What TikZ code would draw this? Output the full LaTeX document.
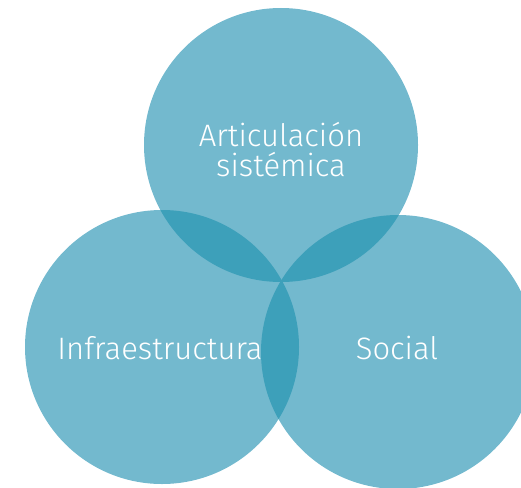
\documentclass[tikz,border=0pt]{standalone}
\usepackage{fontspec}
\setmainfont{Fira Sans Light}
\usetikzlibrary{positioning}
\definecolor{vennlight}{RGB}{115,185,206}
\definecolor{venndark}{RGB}{61,160,186}

\begin{document}
\begin{tikzpicture}[x=1pt, y=-1pt,
  ring/.style={circle, fill=vennlight, minimum size=274pt, inner sep=0pt, outer sep=0pt},
  lab/.style={text=white, font=\fontsize{31}{30}\selectfont, align=center, inner sep=0pt},
]
\clip (0,0) rectangle (521,487);
\node[ring] (top)   at (281,145) {};
\node[ring] (left)  at (162,347) {};
\node[ring] (right) at (398,352) {};
% darker overlaps
\begin{scope}
  \clip (top.center) circle (137pt);
  \fill[venndark] (left.center) circle (137pt);
  \fill[venndark] (right.center) circle (137pt);
\end{scope}
\begin{scope}
  \clip (left.center) circle (137pt);
  \fill[venndark] (right.center) circle (137pt);
\end{scope}
\node[lab] (tlab) at (281,150) {Articulación\\sistémica};
\node[lab] (llab) at (160,348) {Infraestructura};
\node[lab] (rlab) at (397,348) {Social};
\end{tikzpicture}
\end{document}
